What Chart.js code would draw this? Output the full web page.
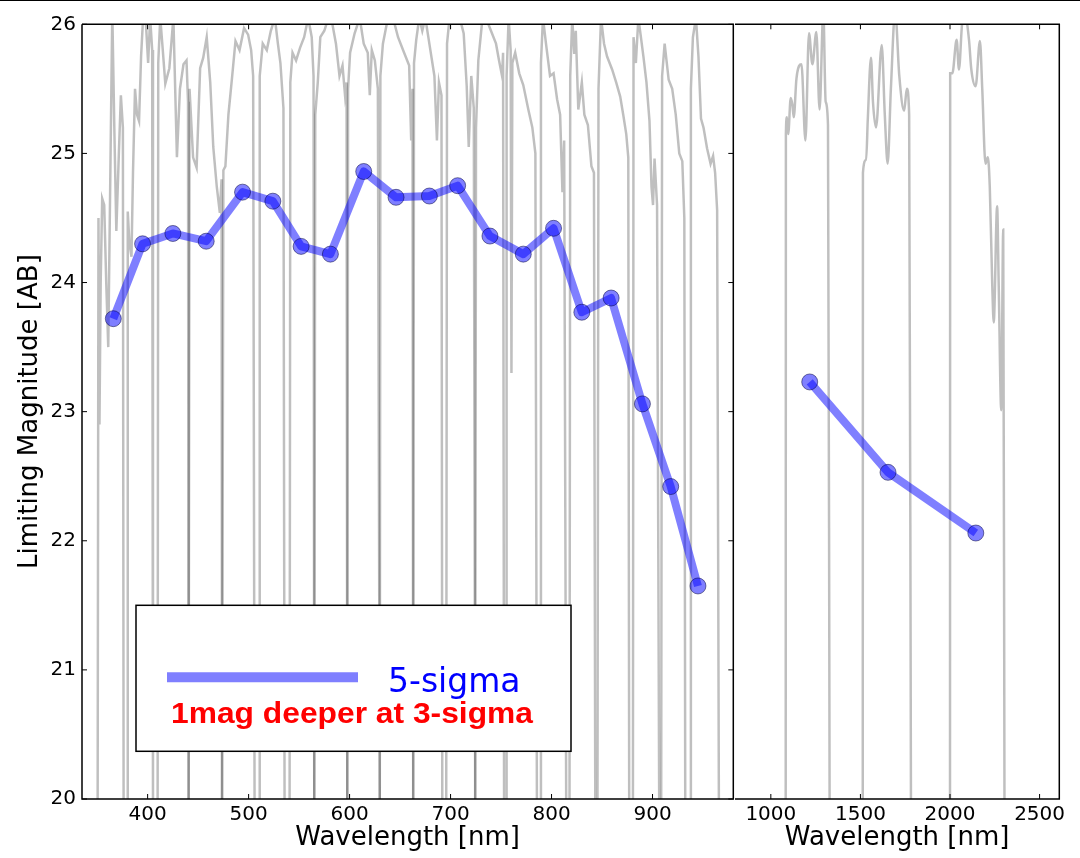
<!DOCTYPE html>
<html>
<head>
<meta charset="utf-8">
<script src="https://cdn.jsdelivr.net/npm/chart.js@4.4.1/dist/chart.umd.min.js"></script>
<style>
  html, body { margin: 0; padding: 0; background: #fff; }
  body { width: 1080px; height: 858px; position: relative; overflow: hidden; }
  #topRule { position: absolute; left: 0; top: 0; width: 1080px; height: 1px; background: #000; }
  #leftCanvas { position: absolute; left: 0; top: 0; }
  #rightCanvas { position: absolute; left: 726px; top: 0; }
</style>
</head>
<body>
<div id="topRule"></div>
<canvas id="leftCanvas" width="745" height="858"></canvas>
<canvas id="rightCanvas" width="354" height="858"></canvas>
<script>
// 5-sigma limiting magnitudes
const optWave = [366, 395, 425, 458, 494, 524, 552, 581, 614, 646, 679, 707, 739, 772, 802, 830, 859, 890, 918, 945];
const optMag  = [23.72, 24.30, 24.38, 24.32, 24.70, 24.63, 24.28, 24.22, 24.86, 24.66, 24.67, 24.75, 24.36, 24.22, 24.42, 23.77, 23.88, 23.06, 22.42, 21.65];
const nirWave = [1217, 1654, 2144];
const nirMag  = [23.23, 22.53, 22.06];

const leftTicksX  = [400, 500, 600, 700, 800, 900];
const rightTicksX = [1000, 1500, 2000, 2500];
const ticksY = [20, 21, 22, 23, 24, 25, 26];

// filter transmission curves in the background, [nm, mag]
const f1  = [[350.5,20],[351.3,24.5],[352.3,22.9],[353.5,24.0],[355,24.65],[357,24.6],[359,24.0],[361,23.5],[363,24.8],[365,26.1],[367,25.2],[369,24.4],[371.5,25.0],[373.5,25.45],[375.5,25.2],[376.2,20]];
const f2  = [[379.6,20],[380.3,24.55],[382,24.3],[384,24.2],[385.5,24.85],[387.5,25.5],[389.5,25.3],[391.5,25.25],[393.5,25.75],[395.5,26.05],[398,26.05],[400.5,25.7],[402.5,26.05],[404.5,25.8],[405.3,20]];
const f3  = [[409.9,20],[410.5,25.7],[412.5,26.05],[415,25.8],[417.5,25.54],[421.5,25.66],[425.5,26.05],[429,24.97],[432,25.5],[435.5,25.69],[438.5,25.72],[440,25.4],[440.6,20]];
const f4  = [[440.6,20],[441.5,25.5],[445,24.97],[448.5,24.89],[452,25.66],[455,25.74],[458.5,25.9],[462,25.55],[465,25.05],[468.5,24.74],[471.5,24.54],[473.2,24.8],[473.7,20]];
const f5  = [[473.7,20],[475,24.87],[477,24.9],[480,25.3],[483.5,25.58],[487,25.87],[491,25.8],[495.5,25.97],[499.5,25.92],[502.5,25.8],[504.5,25.6],[505.9,20]];
const f6  = [[510.3,20],[511,25.6],[514,25.85],[518,25.8],[522,25.95],[526,26.05],[529,25.85],[531.5,25.7],[534.5,25.35],[535.6,20]];
const f7  = [[540.6,20],[541.3,25.55],[543.5,25.78],[547,25.72],[551,25.82],[555,25.9],[559,26.05],[562.5,25.9],[564.3,25.6],[565,20]];
const f8  = [[565,20],[566,25.3],[568.5,25.55],[571,25.9],[575,25.95],[579,26.05],[583,26.0],[586.5,25.85],[590,25.6],[593,25.68],[595.5,25.45],[597,25.55],[597.7,20]];
const f9  = [[597.7,20],[598.5,25.5],[600.5,25.78],[605,25.93],[610,26.05],[614,25.85],[618,25.78],[620,25.45],[622,25.8],[625,25.72],[628,25.5],[629.9,20]];
const f10 = [[629.9,20],[630.5,25.6],[633,25.85],[638,26.05],[643,26.05],[648,25.9],[654,25.78],[659,25.68],[661,25.1],[662.3,25.5],[663,20]];
const f11 = [[663,20],[663.8,25.7],[666,25.88],[669,26.05],[672,25.95],[675,26.05],[680,25.8],[684,25.6],[686.5,25.1],[688.5,25.55],[691,25.45],[691.8,20]];
const f12 = [[695.7,20],[696.5,25.85],[699,26.05],[704,26.1],[709,26.05],[713,25.93],[716,25.52],[718,25.05],[720.5,25.6],[723,25.35],[724.4,20]];
const f13 = [[724.4,20],[725.2,25.2],[727.5,25.72],[731,26.0],[735,26.05],[740,25.95],[745,25.85],[748,25.72],[751,25.6],[752,25.78],[753,20]];
const f14 = [[755,20],[755.5,25.6],[757.5,26.05],[759.5,25.8],[760.3,23.3],[761.2,25.7],[764,25.78],[768,25.62],[772,25.53],[777,25.34],[781,25.2],[784,25.0],[785.5,20]];
const f15 = [[788.8,20],[789.5,25.7],[791.5,26.05],[794.5,25.85],[798.5,25.6],[802,25.62],[805.5,25.42],[808.5,25.3],[810.8,24.7],[812.5,25.1],[814.5,20]];
const f16 = [[817.8,20],[818.5,25.6],[820.5,26.05],[822.5,25.77],[824,25.95],[826.5,25.34],[830,25.55],[832.5,25.3],[836,25.22],[839.5,24.9],[842,24.85],[843.3,20]];
const f17 = [[845.5,20],[846.5,25.5],[849,26.05],[852,25.85],[855,25.75],[860,25.65],[864,25.55],[868,25.44],[871,25.3],[874,25.15],[876,24.97],[876.9,20]];
const f18 = [[880.6,20],[881.2,25.9],[883.5,25.7],[886,26.05],[888.5,25.9],[891,25.75],[894,25.55],[897,25.25],[899,24.74],[900.5,24.6],[902,24.96],[904.5,24.6],[906.6,20]];
const f19 = [[908.6,20],[909.5,25.6],[912,25.85],[916,25.57],[919.5,25.5],[923,25.3],[926.5,25.0],[929.5,24.94],[931.5,24.5],[932.4,20]];
const f20 = [[937.4,20],[938,25.5],[940,25.9],[943,26.05],[945.5,25.75],[948,25.27],[950.5,25.2],[954,25.04],[957.5,24.92],[960,24.98],[962,24.85],[964,24.56],[965.7,20]];
const fJ  = [[1083,20],[1084,25.15],[1090,25.28],[1097,25.15],[1111,25.43],[1120,25.38],[1128,25.28],[1143,25.58],[1171,25.69],[1193,25.1],[1213,25.93],[1232,25.69],[1254,25.94],[1272,25.34],[1293,26.1],[1306,25.4],[1319,25.22],[1328,20]];
const fH  = [[1513,20],[1514,24.85],[1532,24.95],[1541,25.26],[1559,25.74],[1570,25.4],[1587,25.2],[1619,25.84],[1636,25.3],[1652,24.92],[1670,25.5],[1694,26.1],[1717,25.6],[1744,25.33],[1759,25.5],[1772,25.3],[1782,20]];
const fK  = [[2000,20],[2001,25.62],[2013,25.62],[2037,25.88],[2050,25.65],[2069,26.02],[2087,26.05],[2106,25.88],[2119,25.65],[2143,25.52],[2167,25.87],[2180,25.5],[2198,24.92],[2211,24.97],[2222,24.74],[2236,23.97],[2244,23.69],[2263,24.59],[2272,23.97],[2286,23.01],[2297,24.41],[2304,20]];

const opticalFilters = [f1, f2, f3, f4, f5, f6, f7, f8, f9, f10, f11, f12, f13, f14, f15, f16, f17, f18, f19, f20];
const nirFilters = [fJ, fH, fK];

Chart.defaults.font.family = "'DejaVu Sans', sans-serif";
Chart.defaults.color = '#000';

const tickFont = { size: 20 };
const titleFont = { size: 26 };

function curve(pairs, tension) {
    return {
        data: pairs.map(p => ({ x: p[0], y: p[1] })),
        borderColor: 'rgba(0,0,0,0.25)',
        borderWidth: 2.5,
        pointRadius: 0,
        tension: tension,
        cubicInterpolationMode: tension ? 'monotone' : 'default',
        clip: 0,
        order: 1
    };
}

function limitSeries(wave, mag) {
    return {
        data: wave.map((w, i) => ({ x: w, y: mag[i] })),
        borderColor: 'rgba(0,0,255,0.5)',
        borderWidth: 8,
        borderJoinStyle: 'round',
        pointRadius: 8,
        pointHoverRadius: 8,
        pointBackgroundColor: 'rgba(0,0,255,0.5)',
        pointBorderColor: 'rgba(0,0,60,0.5)',
        pointBorderWidth: 1,
        tension: 0,
        clip: false,
        order: 0
    };
}

// matplotlib style frame with inward ticks
const frameTicks = {
    id: 'frameTicks',
    afterDatasetsDraw(chart, args, opts) {
        const { ctx, chartArea: a, scales } = chart;
        ctx.save();
        ctx.strokeStyle = '#000';
        ctx.lineWidth = 1;
        ctx.beginPath();
        scales.x.ticks.forEach(t => {
            const px = scales.x.getPixelForValue(t.value);
            ctx.moveTo(px, a.bottom); ctx.lineTo(px, a.bottom - 5);
            ctx.moveTo(px, a.top); ctx.lineTo(px, a.top + 5);
        });
        if (opts.yTicks) {
            ticksY.forEach(v => {
                const py = scales.y.getPixelForValue(v);
                ctx.moveTo(a.left, py); ctx.lineTo(a.left + 5, py);
                ctx.moveTo(a.right, py); ctx.lineTo(a.right - 5, py);
            });
        }
        ctx.stroke();
        ctx.lineWidth = 1.5;
        ctx.beginPath();
        ctx.moveTo(a.left, a.top); ctx.lineTo(a.right, a.top);
        ctx.lineTo(a.right, a.bottom); ctx.lineTo(a.left, a.bottom);
        if (!opts.skipLeft) ctx.lineTo(a.left, a.top);
        ctx.stroke();
        ctx.restore();
    }
};

// hand-made legend box as in the figure
const legendBox = {
    id: 'legendBox',
    afterDatasetsDraw(chart, args, opts) {
        if (!opts.show) return;
        const { ctx, chartArea: a } = chart;
        const bx = a.left + 54, by = a.top + 581, bw = 435, bh = 146;
        ctx.save();
        ctx.fillStyle = '#fff';
        ctx.fillRect(bx, by, bw, bh);
        ctx.strokeStyle = '#000';
        ctx.lineWidth = 1.5;
        ctx.strokeRect(bx, by, bw, bh);

        ctx.strokeStyle = 'rgba(0,0,255,0.5)';
        ctx.lineWidth = 10;
        ctx.beginPath();
        ctx.moveTo(bx + 31, by + 72);
        ctx.lineTo(bx + 222, by + 72);
        ctx.stroke();

        ctx.fillStyle = '#0000ff';
        ctx.font = "33px 'DejaVu Sans'";
        ctx.textBaseline = 'alphabetic';
        ctx.fillText('5-sigma', bx + 252, by + 87);

        ctx.fillStyle = '#ff0000';
        ctx.font = "bold 30px 'Liberation Sans'";
        const txt = '1mag deeper at 3-sigma';
        const w = ctx.measureText(txt).width;
        ctx.translate(bx + 35, by + 118);
        ctx.scale(362 / w, 1);
        ctx.fillText(txt, 0, 0);
        ctx.restore();
    }
};

const plainNumber = v => String(v);

new Chart(document.getElementById('leftCanvas'), {
    type: 'line',
    data: {
        datasets: [limitSeries(optWave, optMag)].concat(opticalFilters.map(f => curve(f, 0)))
    },
    options: {
        responsive: false,
        animation: false,
        events: [],
        layout: { padding: { left: 0, top: 24.3, right: 11.7, bottom: 0 } },
        plugins: {
            legend: { display: false },
            tooltip: { enabled: false },
            frameTicks: { yTicks: true, skipLeft: false },
            legendBox: { show: true }
        },
        scales: {
            x: {
                type: 'linear', min: 335, max: 980,
                grid: { display: false, drawTicks: false },
                border: { display: false },
                afterBuildTicks: s => { s.ticks = leftTicksX.map(v => ({ value: v })); },
                afterFit: s => { s.height = 59; },
                ticks: { font: tickFont, color: '#000', padding: 4, maxRotation: 0, callback: plainNumber },
                title: { display: true, text: 'Wavelength [nm]', font: titleFont, color: '#000', padding: { top: 0, bottom: 4 } }
            },
            y: {
                type: 'linear', min: 20, max: 26,
                grid: { display: false, drawTicks: false },
                border: { display: false },
                afterBuildTicks: s => { s.ticks = ticksY.map(v => ({ value: v })); },
                afterFit: s => { s.width = 82; },
                ticks: { font: tickFont, color: '#000', padding: 6, callback: plainNumber },
                title: { display: true, text: 'Limiting Magnitude [AB]', font: titleFont, color: '#000', padding: { top: 15, bottom: 0 } }
            }
        }
    },
    plugins: [frameTicks, legendBox]
});

new Chart(document.getElementById('rightCanvas'), {
    type: 'line',
    data: {
        datasets: [limitSeries(nirWave, nirMag)].concat(nirFilters.map(f => curve(f, 0.3)))
    },
    options: {
        responsive: false,
        animation: false,
        events: [],
        layout: { padding: { left: 7.3, top: 24.3, right: 20.7, bottom: 0 } },
        plugins: {
            legend: { display: false },
            tooltip: { enabled: false },
            frameTicks: { yTicks: false, skipLeft: true },
            legendBox: { show: false }
        },
        scales: {
            x: {
                type: 'linear', min: 800, max: 2610,
                grid: { display: false, drawTicks: false },
                border: { display: false },
                afterBuildTicks: s => { s.ticks = rightTicksX.map(v => ({ value: v })); },
                afterFit: s => { s.height = 59; },
                ticks: { font: tickFont, color: '#000', padding: 4, maxRotation: 0, callback: plainNumber },
                title: { display: true, text: 'Wavelength [nm]', font: titleFont, color: '#000', padding: { top: 0, bottom: 4 } }
            },
            y: {
                type: 'linear', min: 20, max: 26,
                display: false
            }
        }
    },
    plugins: [frameTicks, legendBox]
});
</script>
</body>
</html>
